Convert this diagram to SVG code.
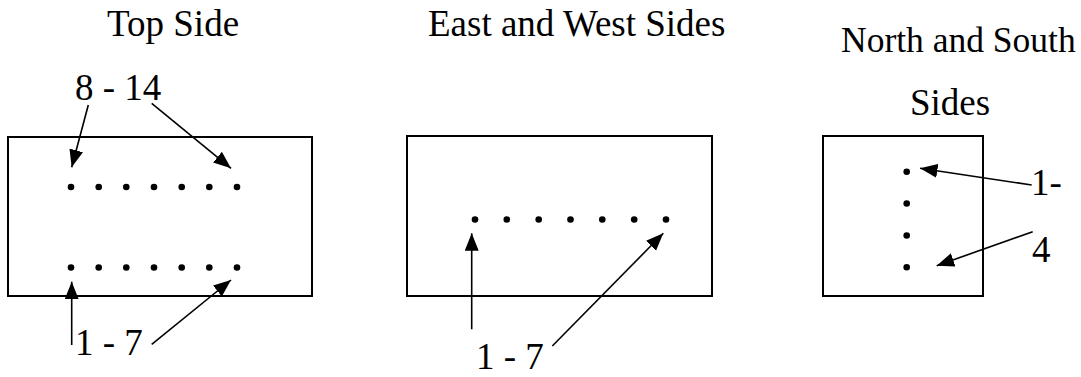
<svg xmlns="http://www.w3.org/2000/svg" width="1081" height="377" viewBox="0 0 1081 377">
<style>
text{font-family:'Liberation Serif','Times New Roman',serif;font-size:37px;fill:#000}
.box{fill:none;stroke:#000;stroke-width:2}
.dot{fill:#000}
.arr{stroke:#000;stroke-width:1.6;fill:none;marker-end:url(#ah)}
</style>
<defs>
<marker id="ah" markerUnits="userSpaceOnUse" markerWidth="19" markerHeight="15" refX="17.5" refY="7" orient="auto">
<path d="M0,0 L17.5,7 L0,14 z" fill="#000"/>
</marker>
</defs>
<rect width="1081" height="377" fill="#fff"/>
<g id="top-side">
<text x="107" y="36">Top Side</text>
<rect class="box" x="8" y="137" width="304" height="159"/>
<g class="dot">
<circle cx="71" cy="187" r="3.3"/><circle cx="98.7" cy="187" r="3.3"/><circle cx="126.3" cy="187" r="3.3"/><circle cx="154" cy="187" r="3.3"/><circle cx="181.7" cy="187" r="3.3"/><circle cx="209.3" cy="187" r="3.3"/><circle cx="237" cy="187" r="3.3"/>
<circle cx="71" cy="267.5" r="3.3"/><circle cx="98.7" cy="267.5" r="3.3"/><circle cx="126.3" cy="267.5" r="3.3"/><circle cx="154" cy="267.5" r="3.3"/><circle cx="181.7" cy="267.5" r="3.3"/><circle cx="209.3" cy="267.5" r="3.3"/><circle cx="237" cy="267.5" r="3.3"/>
</g>
<text x="75" y="100">8 - 14</text>
<text x="75" y="355">1 - 7</text>
</g>
<g id="east-west-sides">
<text x="428" y="36">East and West Sides</text>
<rect class="box" x="407" y="136" width="305" height="160"/>
<g class="dot">
<circle cx="475" cy="219.5" r="3.3"/><circle cx="506.8" cy="219.5" r="3.3"/><circle cx="538.7" cy="219.5" r="3.3"/><circle cx="570.5" cy="219.5" r="3.3"/><circle cx="602.3" cy="219.5" r="3.3"/><circle cx="634.2" cy="219.5" r="3.3"/><circle cx="666" cy="219.5" r="3.3"/>
</g>
<text x="476" y="369">1 - 7</text>
</g>
<g id="north-south-sides">
<text x="841" y="52" style="font-size:35.5px">North and South</text>
<text x="910" y="115">Sides</text>
<rect class="box" x="823" y="136" width="160" height="160"/>
<g class="dot">
<circle cx="906.7" cy="171.7" r="3.3"/><circle cx="906.7" cy="203.5" r="3.3"/><circle cx="906.7" cy="235.5" r="3.3"/><circle cx="906.7" cy="267.3" r="3.3"/>
</g>
<text x="1031" y="195">1-</text>
<text x="1032" y="262">4</text>
</g>
<g id="connectors">
<line class="arr" x1="88.3" y1="105" x2="71.7" y2="167.3"/>
<line class="arr" x1="151.7" y1="103.3" x2="231" y2="168.3"/>
<line class="arr" x1="71.7" y1="345" x2="71.7" y2="281.7"/>
<line class="arr" x1="151.7" y1="344.3" x2="231" y2="280"/>
<line class="arr" x1="471.7" y1="329.3" x2="471.7" y2="233.3"/>
<line class="arr" x1="552.3" y1="346" x2="663.3" y2="233.3"/>
<line class="arr" x1="1031.7" y1="185" x2="920" y2="168.3"/>
<line class="arr" x1="1032.7" y1="231.7" x2="936.7" y2="265.7"/>
</g>
</svg>
